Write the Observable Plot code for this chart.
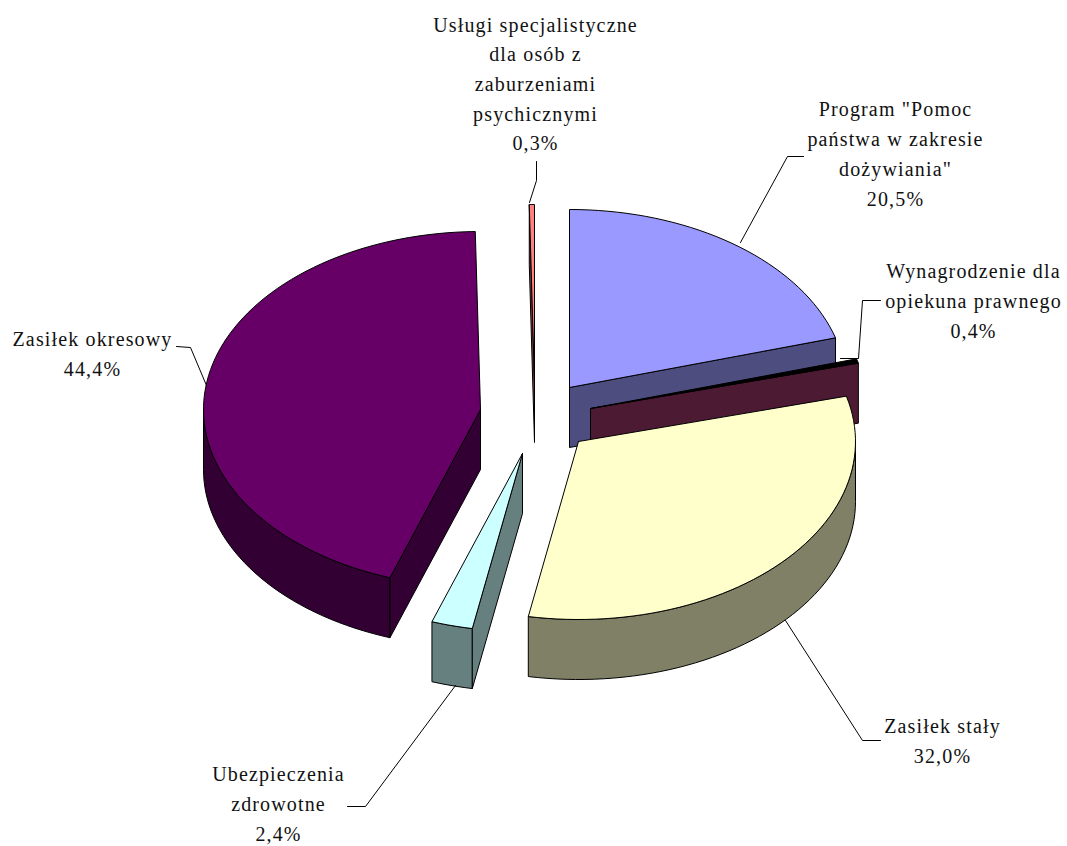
<!DOCTYPE html>
<html><head><meta charset="utf-8">
<style>html,body{margin:0;padding:0;background:#fff}svg{display:block}</style>
<script src="https://cdn.jsdelivr.net/npm/d3@7"></script>
<script src="https://cdn.jsdelivr.net/npm/@observablehq/plot@0.6"></script>
</head><body>
<script>
// Data (listed in pie order, clockwise from 12 o'clock)
const names = ["Program \"Pomoc\npaństwa w zakresie\ndożywiania\"","Wynagrodzenie dla\nopiekuna prawnego","Zasiłek stały","Ubezpieczenia\nzdrowotne","Zasiłek okresowy","Usługi specjalistyczne\ndla osób z\nzaburzeniami\npsychicznymi"];
const shares = [20.5,0.4,32.0,2.4,44.4,0.3];
const shareLabels = ["20,5%","0,4%","32,0%","2,4%","44,4%","0,3%"];
const topColors = ["#9999ff","#000000","#ffffcc","#ccffff","#660066","#ff8080"];
const wallColors = ["#4d4d80","#4d1a33","#808066","#668080","#330033","#804040"];

// Layout in pie radii: x radius = 1, y radius = 1 (horizontal and vertical scales differ for the tilt)
const W = 1067, H = 846, RX = 277, RY = 178, CX = 538, CY = 414;
const depth = 60 / RY;
const ux = px => (px - CX) / RX, uy = py => (CY - py) / RY;
const apex = [[569,387],[590,408],[578,441],[522,453],[480,409],[534,382]].map(([a,b]) => [ux(a),uy(b)]);
const paintOrder = [5,0,1,4,3,2];
const labelAt = [[895,151],[973,298],[942,738],[278,801],[92,351],[535,81]];
const leaderPts = [
  [[803,156],[787,156],[740,242]],
  [[880,300],[862,300],[858,358],[840,358]],
  [[785,620],[862,740],[880,740]],
  [[347,806],[365,806],[455,685]],
  [[176,346],[190,347],[206,385]],
  [[536,161],[536,180],[529,202]]
];

// Slice geometry derived from the shares
const rad = d => d * Math.PI / 180;
let acc = 0;
const spans = shares.map(v => { const a0 = acc; acc += v * 3.6; return [a0, acc]; });
const faces = [];
function addFace(id, color, pts) {
  pts.concat([pts[0]]).forEach(([x,y]) => faces.push({id, color, x, y}));
}
paintOrder.forEach(i => {
  const [a0,a1] = spans[i], [ox,oy] = apex[i];
  const pt = (a, drop=0) => [ox + Math.sin(rad(a)), oy + Math.cos(rad(a)) - drop];
  const arc = (s,e) => { const n = Math.max(2, Math.ceil(Math.abs(e-s)/2)); return d3.range(n+1).map(k => s + (e-s)*k/n); };
  const lo = Math.max(a0,90), hi = Math.min(a1,270);
  if (hi > lo) {
    const as = arc(lo,hi);
    addFace(`w${i}`, wallColors[i], as.map(a => pt(a)).concat(as.slice().reverse().map(a => pt(a,depth))));
  }
  const radialWall = (a, tag) => addFace(`${tag}${i}`, wallColors[i], [[ox,oy],pt(a),pt(a,depth),[ox,oy-depth]]);
  if (Math.sin(rad(a1)) > 0) radialWall(a1,"e");
  if (Math.sin(rad(a0)) < 0) radialWall(a0,"s");
  addFace(`t${i}`, topColors[i], [[ox,oy]].concat(arc(a0,a1).map(a => pt(a))));
});
const leaders = leaderPts.flatMap((l,i) => l.map(([a,b]) => ({id:i, x:ux(a), y:uy(b)})));
const labels = names.map((n,i) => ({text:`${n}\n${shareLabels[i]}`, x:ux(labelAt[i][0]), y:uy(labelAt[i][1])}));

const chart = Plot.plot({
  width: W, height: H, margin: 0, style: {background:"#fff", letterSpacing:"1.15px"},
  x: {domain:[ux(0),ux(W)], range:[0,W], axis:null},
  y: {domain:[uy(H),uy(0)], range:[H,0], axis:null},
  color: {type:"identity"},
  marks: [
    Plot.line(faces, {x:"x", y:"y", z:"id", fill:"color", stroke:"#000", strokeWidth:1, curve:"linear"}),
    Plot.line(leaders, {x:"x", y:"y", z:"id", stroke:"#000", strokeWidth:1, curve:"linear"}),
    Plot.text(labels, {x:"x", y:"y", text:"text", fontFamily:"Liberation Serif", fontSize:20, lineHeight:1.485, fill:"#111", textAnchor:"middle"})
  ]
});
document.body.appendChild(chart);
</script>
</body></html>
